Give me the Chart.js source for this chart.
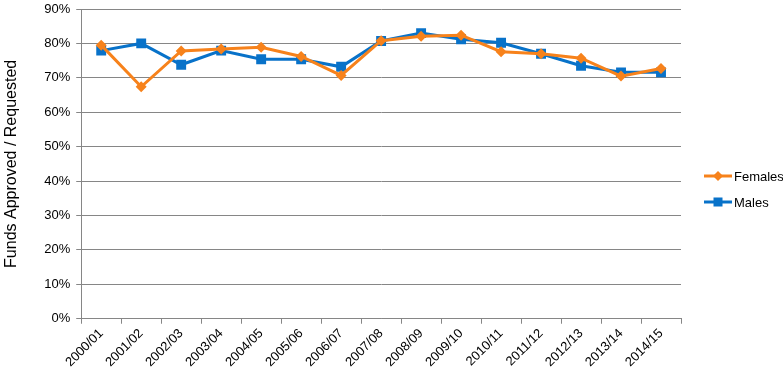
<!DOCTYPE html>
<html>
<head>
<meta charset="utf-8">
<script src="https://cdn.jsdelivr.net/npm/chart.js@4/dist/chart.umd.min.js"></script>
<style>
  html, body { margin: 0; padding: 0; background: #fff; }
  #wrap { width: 783px; height: 384px; }
</style>
</head>
<body>
<div id="wrap"><canvas id="chart" width="783" height="384"></canvas></div>
<script>
const years = ['2000/01', '2001/02', '2002/03', '2003/04', '2004/05', '2005/06', '2006/07', '2007/08',
  '2008/09', '2009/10', '2010/11', '2011/12', '2012/13', '2013/14', '2014/15'];
const females = [79.5, 67.4, 77.8, 78.4, 78.9, 76.2, 70.7, 80.8, 82.1, 82.4, 77.6, 77.0, 75.7, 70.5, 72.7];
const males = [77.9, 80.0, 73.8, 77.9, 75.4, 75.4, 73.2, 80.7, 83.0, 81.2, 80.2, 77.0, 73.5, 71.6, 71.6];
const yTicks = [0, 10, 20, 30, 40, 50, 60, 70, 80, 90];

const orange = '#F7821B';
const blue = '#0872C9';
const font = 'Liberation Sans, Arial, sans-serif';

// legend with line + marker, Excel style
const sideLegend = {
  id: 'sideLegend',
  afterDraw(chart) {
    const ctx = chart.ctx;
    const x = 704;
    const items = chart.data.datasets;
    items.forEach((ds, i) => {
      const y = 176 + i * 26;
      ctx.save();
      ctx.strokeStyle = ds.borderColor;
      ctx.lineWidth = 3;
      ctx.beginPath();
      ctx.moveTo(x, y);
      ctx.lineTo(x + 28, y);
      ctx.stroke();
      ctx.fillStyle = ds.borderColor;
      const cx = x + 14;
      if (ds.pointStyle === 'rect') {
        ctx.fillRect(cx - 4.5, y - 4.5, 9, 9);
      } else {
        ctx.beginPath();
        ctx.moveTo(cx, y - 5);
        ctx.lineTo(cx + 5, y);
        ctx.lineTo(cx, y + 5);
        ctx.lineTo(cx - 5, y);
        ctx.closePath();
        ctx.fill();
      }
      ctx.fillStyle = '#000';
      ctx.font = '13px ' + font;
      ctx.textBaseline = 'middle';
      ctx.fillText(ds.label, x + 30, y + 1);
      ctx.restore();
    });
  }
};

new Chart(document.getElementById('chart'), {
  type: 'line',
  data: {
    labels: years,
    datasets: [{
      label: 'Females',
      data: females,
      borderColor: orange,
      backgroundColor: orange,
      borderWidth: 3,
      pointStyle: 'rectRot',
      pointRadius: 5.5,
      pointHoverRadius: 5.5,
      pointBorderWidth: 0,
      tension: 0
    }, {
      label: 'Males',
      data: males,
      borderColor: blue,
      backgroundColor: blue,
      borderWidth: 3,
      pointStyle: 'rect',
      pointRadius: 7,
      pointHoverRadius: 7,
      pointBorderWidth: 0,
      tension: 0
    }]
  },
  options: {
    responsive: false,
    animation: false,
    layout: { padding: { top: 0, right: 102, left: 2, bottom: 12 } },
    plugins: {
      legend: { display: false },
      tooltip: { enabled: false }
    },
    scales: {
      x: {
        offset: true,
        grid: {
          offset: true,
          drawOnChartArea: false,
          drawTicks: true,
          tickLength: 5,
          color: '#868686'
        },
        border: { color: '#868686', width: 1 },
        ticks: {
          color: '#000',
          font: { family: font, size: 13 },
          minRotation: 45,
          maxRotation: 45,
          autoSkip: false,
          padding: 2
        }
      },
      y: {
        min: 0,
        max: 90,
        afterBuildTicks(axis) {
          axis.ticks = yTicks.map(v => ({ value: v }));
        },
        afterFit(axis) {
          axis.paddingTop = 9;
        },
        grid: {
          color: '#868686',
          drawTicks: true,
          tickLength: 5,
          lineWidth: 1
        },
        border: { color: '#868686', width: 1 },
        ticks: {
          color: '#000',
          font: { family: font, size: 13 },
          padding: 6,
          callback: v => v + '%'
        },
        title: {
          display: true,
          text: 'Funds Approved / Requested',
          color: '#000',
          font: { family: font, size: 16 },
          padding: { top: 0, bottom: 17 }
        }
      }
    }
  },
  plugins: [sideLegend]
});
</script>
</body>
</html>
